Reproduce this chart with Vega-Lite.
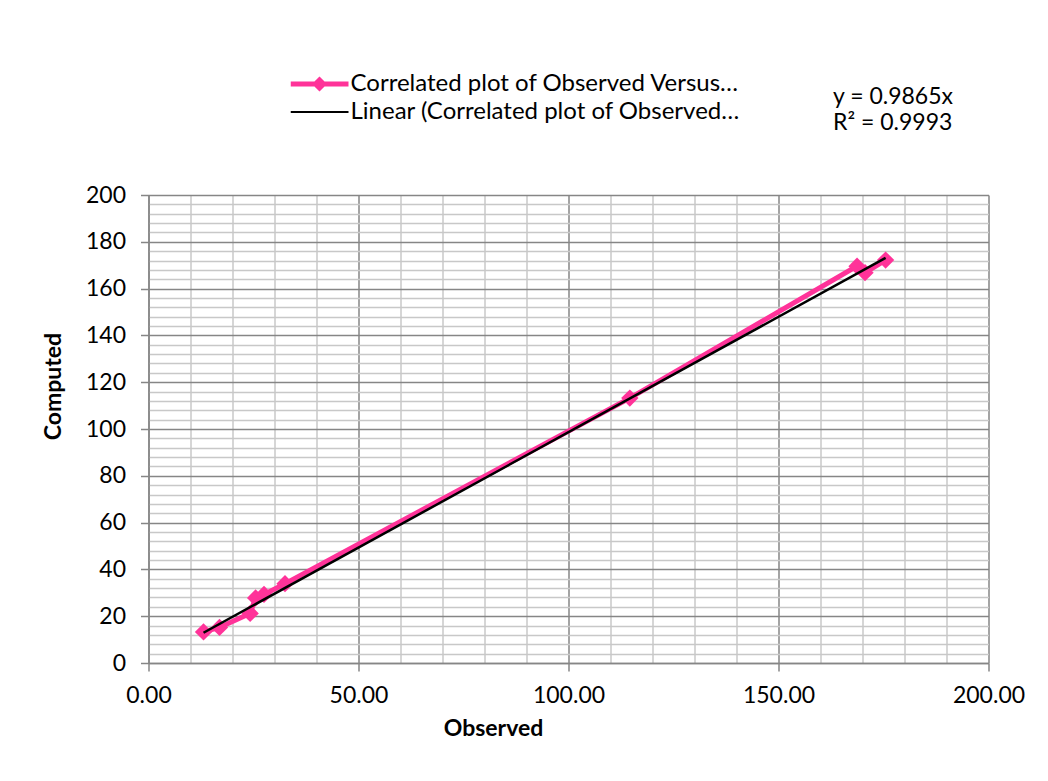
{
  "$schema": "https://vega.github.io/schema/vega-lite/v6.json",
  "width": 840,
  "height": 468,
  "autosize": {"type": "none"},
  "padding": {"left": 148.5, "top": 195, "right": 59.5, "bottom": 118},
  "background": "white",
  "config": {
    "view": {"stroke": null},
    "font": "Lato",
    "axis": {
      "labelFont": "Lato",
      "labelFontSize": 23,
      "labelColor": "#000000",
      "titleFont": "Lato",
      "titleFontSize": 23,
      "titleFontWeight": "bold",
      "titleColor": "#000000",
      "domainColor": "#868686",
      "domainWidth": 1.5,
      "tickColor": "#868686",
      "tickSize": 8,
      "tickWidth": 1.5,
      "labelOverlap": false,
      "labelFlush": false
    }
  },
  "title": {
    "text": "y = 0.9865x",
    "subtitle": "R² = 0.9993",
    "frame": "group",
    "anchor": "start",
    "align": "left",
    "dx": 684.5,
    "dy": 127,
    "offset": 66,
    "font": "Lato",
    "fontSize": 23,
    "fontWeight": "normal",
    "color": "#000000",
    "subtitleFont": "Lato",
    "subtitleFontSize": 23,
    "subtitleColor": "#000000",
    "subtitlePadding": 3
  },
  "datasets": {
    "observations": [
      {"Observed": 13.1, "Computed": 13.3, "series": "Correlated plot of Observed Versus…"},
      {"Observed": 16.9, "Computed": 15.2, "series": "Correlated plot of Observed Versus…"},
      {"Observed": 24.2, "Computed": 21.2, "series": "Correlated plot of Observed Versus…"},
      {"Observed": 25.5, "Computed": 27.8, "series": "Correlated plot of Observed Versus…"},
      {"Observed": 27.5, "Computed": 29.3, "series": "Correlated plot of Observed Versus…"},
      {"Observed": 32.5, "Computed": 33.9, "series": "Correlated plot of Observed Versus…"},
      {"Observed": 114.6, "Computed": 113.2, "series": "Correlated plot of Observed Versus…"},
      {"Observed": 168.7, "Computed": 169.6, "series": "Correlated plot of Observed Versus…"},
      {"Observed": 170.6, "Computed": 166.8, "series": "Correlated plot of Observed Versus…"},
      {"Observed": 175.5, "Computed": 172.2, "series": "Correlated plot of Observed Versus…"}
    ],
    "trend": [
      {"Observed": 13.1, "Computed": 12.92, "series": "Linear (Correlated plot of Observed…"},
      {"Observed": 175.5, "Computed": 173.13, "series": "Linear (Correlated plot of Observed…"}
    ]
  },
  "encoding": {
    "x": {
      "field": "Observed",
      "type": "quantitative",
      "scale": {"domain": [0, 200], "nice": false, "zero": true},
      "axis": {
        "title": "Observed",
        "values": [0, 10, 20, 30, 40, 50, 60, 70, 80, 90, 100, 110, 120, 130, 140, 150, 160, 170, 180, 190, 200],
        "labelExpr": "datum.value % 50 === 0 ? format(datum.value, '.2f') : ''",
        "labelPadding": 13,
        "tickOpacity": {"condition": {"test": "datum.value % 50 === 0", "value": 1}, "value": 0},
        "grid": true,
        "gridColor": {"condition": {"test": "datum.value % 50 === 0", "value": "#868686"}, "value": "#C8C8C8"},
        "gridWidth": 1.5,
        "titleX": 344.5,
        "titleY": 72,
        "titleAlign": "center",
        "titleAnchor": null,
        "titleBaseline": "alphabetic"
      }
    },
    "y": {
      "field": "Computed",
      "type": "quantitative",
      "scale": {"domain": [0, 200], "nice": false, "zero": true},
      "axis": {
        "title": "Computed",
        "values": [0, 4, 8, 12, 16, 20, 24, 28, 32, 36, 40, 44, 48, 52, 56, 60, 64, 68, 72, 76, 80, 84, 88, 92, 96, 100, 104, 108, 112, 116, 120, 124, 128, 132, 136, 140, 144, 148, 152, 156, 160, 164, 168, 172, 176, 180, 184, 188, 192, 196, 200],
        "labelExpr": "datum.value % 20 === 0 ? format(datum.value, 'd') : ''",
        "labelPadding": 15,
        "tickOpacity": {"condition": {"test": "datum.value % 20 === 0", "value": 1}, "value": 0},
        "grid": true,
        "gridColor": {"condition": {"test": "datum.value % 20 === 0", "value": "#868686"}, "value": "#C8C8C8"},
        "gridWidth": 1.5,
        "titleAngle": -90,
        "titleX": -88.5,
        "titleY": 191,
        "titleAlign": "center",
        "titleAnchor": null,
        "titleBaseline": "alphabetic"
      }
    }
  },
  "layer": [
    {
      "data": {"name": "observations"},
      "mark": {"type": "line", "strokeWidth": 5},
      "encoding": {
        "color": {
          "field": "series",
          "type": "nominal",
          "scale": {
            "domain": ["Correlated plot of Observed Versus…", "Linear (Correlated plot of Observed…"],
            "range": ["#FF3399", "#000000"]
          },
          "legend": {
            "title": null,
            "orient": "none",
            "legendX": 142,
            "legendY": -121.5,
            "direction": "vertical",
            "padding": 0,
            "rowPadding": 3,
            "clipHeight": 21,
            "symbolSize": 3364,
            "labelOffset": 2,
            "labelFont": "Lato",
            "labelFontSize": 24,
            "labelColor": "#000000",
            "labelLimit": 1000,
            "encode": {
              "symbols": {
                "update": {
                  "shape": {"signal": "datum.index === 0 ? 'M-1,-0.086H-0.174L0,-0.26L0.174,-0.086H1V0.086H0.174L0,0.26L-0.174,0.086H-1Z' : 'M-1,-0.035H1V0.035H-1Z'"},
                  "fill": {"signal": "datum.index === 0 ? '#FF3399' : '#000000'"},
                  "stroke": {"value": "transparent"},
                  "strokeWidth": {"value": 0},
                  "opacity": {"value": 1},
                  "size": {"value": 3364}
                }
              }
            }
          }
        }
      }
    },
    {
      "data": {"name": "observations"},
      "mark": {"type": "point", "shape": "diamond", "filled": true, "size": 300, "color": "#FF3399", "opacity": 1}
    },
    {
      "data": {"name": "trend"},
      "mark": {"type": "line", "strokeWidth": 2.5},
      "encoding": {
        "color": {"field": "series", "type": "nominal"}
      }
    }
  ]
}
